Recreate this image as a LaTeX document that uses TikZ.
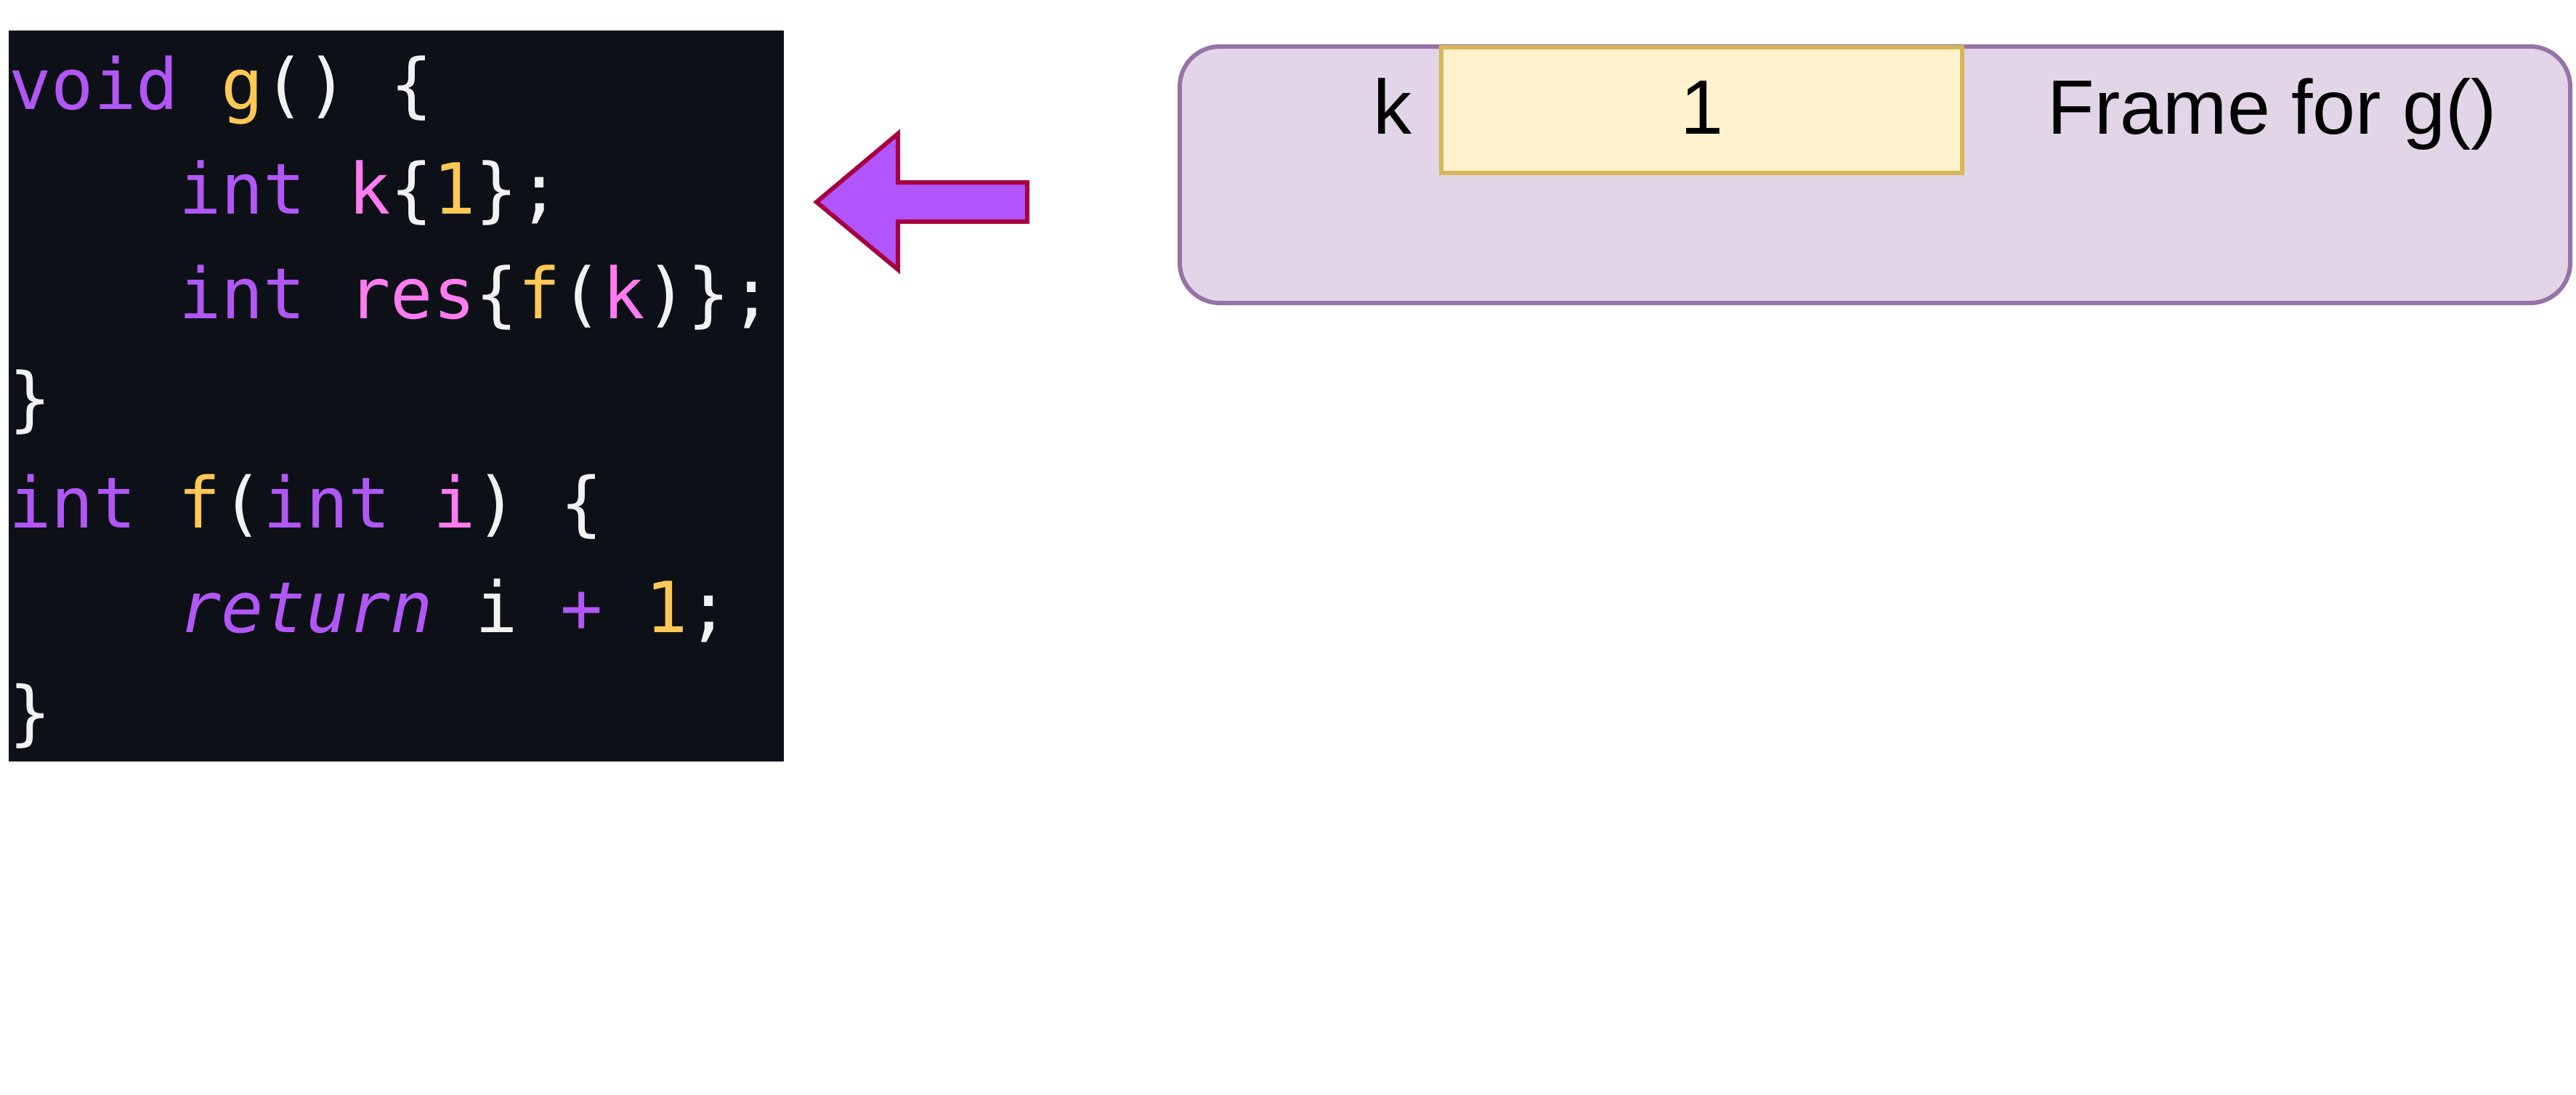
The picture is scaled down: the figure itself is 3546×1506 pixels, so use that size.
\documentclass[tikz,border=0pt]{standalone}
\usepackage{fontspec}
\setmainfont{Liberation Sans}
\newfontfamily\codefont{DejaVu Sans Mono}
\definecolor{codebg}{HTML}{0D1117}
\definecolor{kwc}{HTML}{B157F6}
\definecolor{idc}{HTML}{FF7BF0}
\definecolor{fnc}{HTML}{FFC857}
\definecolor{whc}{HTML}{F2F2F2}
\definecolor{arrfill}{HTML}{B155FF}
\definecolor{arrline}{HTML}{A50040}
\definecolor{frfill}{HTML}{E1D5E7}
\definecolor{frline}{HTML}{9673A6}
\definecolor{slfill}{HTML}{FFF2CC}
\definecolor{slline}{HTML}{D6B656}
\newcommand{\kw}[1]{\textcolor{kwc}{#1}}
\newcommand{\kwi}[1]{\textcolor{kwc}{\itshape #1}}
\newcommand{\idn}[1]{\textcolor{idc}{#1}}
\newcommand{\fnn}[1]{\textcolor{fnc}{#1}}
\newcommand{\wh}[1]{\textcolor{whc}{#1}}
\begin{document}
\begin{tikzpicture}[x=0.5pt,y=-0.5pt,
  codebox/.style={fill=codebg,draw=none,inner sep=0pt,minimum width=533.5pt,minimum height=503pt},
  codeline/.style={anchor=base west,inner sep=0pt,font=\codefont\fontsize{48.5pt}{60pt}\selectfont},
  framebox/.style={fill=frfill,draw=frline,line width=3pt,rounded corners=27.5pt,inner sep=0pt,minimum width=957pt,minimum height=176.5pt},
  slotbox/.style={fill=slfill,draw=slline,line width=3pt,inner sep=0pt,minimum width=358.5pt,minimum height=86.5pt},
  lbl/.style={inner sep=0pt,font=\fontsize{53pt}{64pt}\selectfont},
  bigarrow/.style={fill=arrfill,draw=arrline,line width=3pt,line join=miter}]
\useasboundingbox (0,0) rectangle (3546,1506);
% code panel
\node[codebox] (code) at (545.5,545) {};
\node[codeline] (l1) at (12,150) {\kw{void} \fnn{g}\wh{() \{}};
\node[codeline] (l2) at (245.6,294) {\kw{int} \idn{k}\wh{\{}\fnn{1}\wh{\};}};
\node[codeline] (l3) at (245.6,438) {\kw{int} \idn{res}\wh{\{}\fnn{f}\wh{(}\idn{k}\wh{)\};}};
\node[codeline] (l4) at (12,582) {\wh{\}}};
\node[codeline] (l5) at (12,726) {\kw{int} \fnn{f}\wh{(}\kw{int} \idn{i}\wh{) \{}};
\node[codeline] (l6) at (245.6,870) {\kwi{return} \wh{i} \kwi{+} \fnn{1}\wh{;}};
\node[codeline] (l7) at (12,1014) {\wh{\}}};
% arrow
\draw[bigarrow] (1124,278) -- (1236,184) -- (1236,251) -- (1414,251) -- (1414,305) -- (1236,305) -- (1236,371) -- cycle;
% frame
\node[framebox] (frame) at (2581,240.5) {};
\node[slotbox] (slot) at (2342.5,151.5) {};
\node[lbl,anchor=base east] (klbl) at (1944,184) {k};
\node[lbl,anchor=base] (kval) at (slot.center |- 0,184) {1};
\node[lbl,anchor=base] (ftitle) at (3128,184) {Frame for g()};
\end{tikzpicture}
\end{document}
